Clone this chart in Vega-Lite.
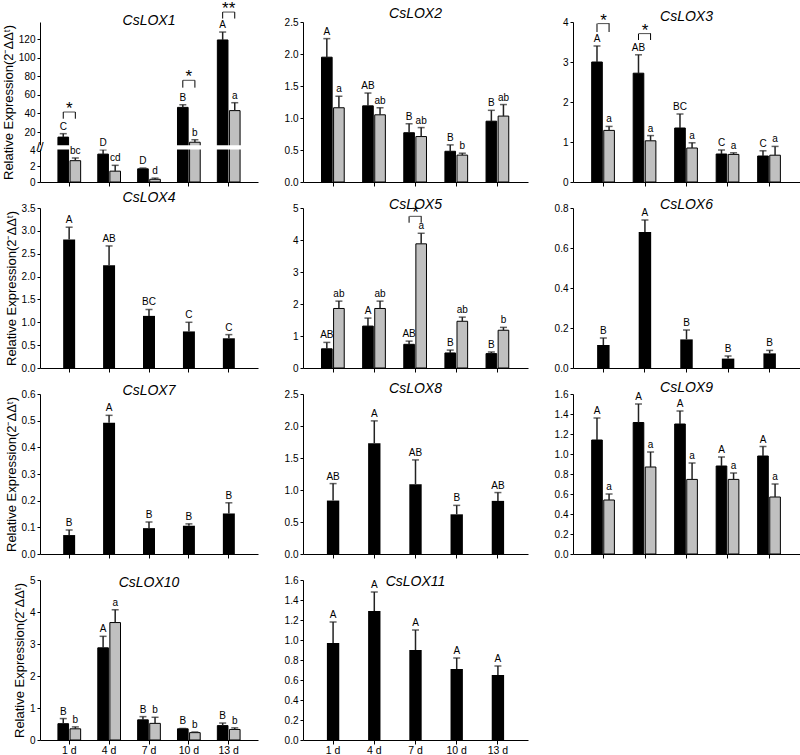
{
"$schema": "https://vega.github.io/schema/vega-lite/v6.json",
"background": "white",
"padding": {"left": 2, "top": 0, "right": 0, "bottom": 0},
"config": {
  "font": "Liberation Sans",
  "view": {"stroke": null},
  "axis": {"labelFontSize": 10, "labelColor": "#000", "tickColor": "#000", "domainColor": "#000", "tickSize": 3, "labelPadding": 2, "labelOverlap": false, "titleFontSize": 13, "titleFontWeight": "normal", "titleColor": "#000", "titlePadding": 3, "grid": false},
  "title": {"fontSize": 14, "fontStyle": "italic", "fontWeight": "normal", "offset": 1, "frame": "group", "anchor": "middle", "color": "#000"}
},
"datasets": {
  "bars": [
    {"gene":"CsLOX1","day":"1 d","treat":"T1","mean":14.5,"hi":18.2,"letter":"C"},
    {"gene":"CsLOX1","day":"1 d","treat":"T2","mean":2.75,"hi":3.1,"letter":"bc"},
    {"gene":"CsLOX1","day":"4 d","treat":"T1","mean":3.6,"hi":4.15,"letter":"D"},
    {"gene":"CsLOX1","day":"4 d","treat":"T2","mean":1.4,"hi":2.15,"letter":"cd"},
    {"gene":"CsLOX1","day":"7 d","treat":"T1","mean":1.7,"hi":1.8,"letter":"D"},
    {"gene":"CsLOX1","day":"7 d","treat":"T2","mean":0.35,"hi":0.5,"letter":"d"},
    {"gene":"CsLOX1","day":"10 d","treat":"T1","mean":46.5,"hi":49.3,"letter":"B"},
    {"gene":"CsLOX1","day":"10 d","treat":"T2","mean":9,"hi":11.7,"letter":"b"},
    {"gene":"CsLOX1","day":"13 d","treat":"T1","mean":119,"hi":127.5,"letter":"A"},
    {"gene":"CsLOX1","day":"13 d","treat":"T2","mean":43,"hi":51.5,"letter":"a"},
    {"gene":"CsLOX2","day":"1 d","treat":"T1","mean":1.95,"hi":2.24,"letter":"A"},
    {"gene":"CsLOX2","day":"1 d","treat":"T2","mean":1.16,"hi":1.34,"letter":"a"},
    {"gene":"CsLOX2","day":"4 d","treat":"T1","mean":1.19,"hi":1.39,"letter":"AB"},
    {"gene":"CsLOX2","day":"4 d","treat":"T2","mean":1.05,"hi":1.16,"letter":"ab"},
    {"gene":"CsLOX2","day":"7 d","treat":"T1","mean":0.77,"hi":0.91,"letter":"B"},
    {"gene":"CsLOX2","day":"7 d","treat":"T2","mean":0.71,"hi":0.85,"letter":"ab"},
    {"gene":"CsLOX2","day":"10 d","treat":"T1","mean":0.48,"hi":0.58,"letter":"B"},
    {"gene":"CsLOX2","day":"10 d","treat":"T2","mean":0.42,"hi":0.45,"letter":"b"},
    {"gene":"CsLOX2","day":"13 d","treat":"T1","mean":0.95,"hi":1.12,"letter":"B"},
    {"gene":"CsLOX2","day":"13 d","treat":"T2","mean":1.03,"hi":1.21,"letter":"ab"},
    {"gene":"CsLOX3","day":"1 d","treat":"T1","mean":3.0,"hi":3.4,"letter":"A"},
    {"gene":"CsLOX3","day":"1 d","treat":"T2","mean":1.29,"hi":1.39,"letter":"a"},
    {"gene":"CsLOX3","day":"4 d","treat":"T1","mean":2.72,"hi":3.18,"letter":"AB"},
    {"gene":"CsLOX3","day":"4 d","treat":"T2","mean":1.03,"hi":1.16,"letter":"a"},
    {"gene":"CsLOX3","day":"7 d","treat":"T1","mean":1.35,"hi":1.7,"letter":"BC"},
    {"gene":"CsLOX3","day":"7 d","treat":"T2","mean":0.85,"hi":0.98,"letter":"a"},
    {"gene":"CsLOX3","day":"10 d","treat":"T1","mean":0.7,"hi":0.8,"letter":"C"},
    {"gene":"CsLOX3","day":"10 d","treat":"T2","mean":0.69,"hi":0.73,"letter":"a"},
    {"gene":"CsLOX3","day":"13 d","treat":"T1","mean":0.65,"hi":0.78,"letter":"C"},
    {"gene":"CsLOX3","day":"13 d","treat":"T2","mean":0.67,"hi":0.89,"letter":"a"},
    {"gene":"CsLOX4","day":"1 d","treat":"T1","mean":2.81,"hi":3.08,"letter":"A"},
    {"gene":"CsLOX4","day":"4 d","treat":"T1","mean":2.25,"hi":2.67,"letter":"AB"},
    {"gene":"CsLOX4","day":"7 d","treat":"T1","mean":1.14,"hi":1.28,"letter":"BC"},
    {"gene":"CsLOX4","day":"10 d","treat":"T1","mean":0.8,"hi":1.0,"letter":"C"},
    {"gene":"CsLOX4","day":"13 d","treat":"T1","mean":0.65,"hi":0.73,"letter":"C"},
    {"gene":"CsLOX5","day":"1 d","treat":"T1","mean":0.6,"hi":0.8,"letter":"AB"},
    {"gene":"CsLOX5","day":"1 d","treat":"T2","mean":1.86,"hi":2.09,"letter":"ab"},
    {"gene":"CsLOX5","day":"4 d","treat":"T1","mean":1.31,"hi":1.56,"letter":"A"},
    {"gene":"CsLOX5","day":"4 d","treat":"T2","mean":1.86,"hi":2.09,"letter":"ab"},
    {"gene":"CsLOX5","day":"7 d","treat":"T1","mean":0.74,"hi":0.84,"letter":"AB"},
    {"gene":"CsLOX5","day":"7 d","treat":"T2","mean":3.88,"hi":4.21,"letter":"a"},
    {"gene":"CsLOX5","day":"10 d","treat":"T1","mean":0.47,"hi":0.56,"letter":"B"},
    {"gene":"CsLOX5","day":"10 d","treat":"T2","mean":1.46,"hi":1.59,"letter":"ab"},
    {"gene":"CsLOX5","day":"13 d","treat":"T1","mean":0.45,"hi":0.5,"letter":"B"},
    {"gene":"CsLOX5","day":"13 d","treat":"T2","mean":1.18,"hi":1.27,"letter":"b"},
    {"gene":"CsLOX6","day":"1 d","treat":"T1","mean":0.115,"hi":0.15,"letter":"B"},
    {"gene":"CsLOX6","day":"4 d","treat":"T1","mean":0.68,"hi":0.74,"letter":"A"},
    {"gene":"CsLOX6","day":"7 d","treat":"T1","mean":0.143,"hi":0.19,"letter":"B"},
    {"gene":"CsLOX6","day":"10 d","treat":"T1","mean":0.047,"hi":0.06,"letter":"B"},
    {"gene":"CsLOX6","day":"13 d","treat":"T1","mean":0.073,"hi":0.088,"letter":"B"},
    {"gene":"CsLOX7","day":"1 d","treat":"T1","mean":0.071,"hi":0.09,"letter":"B"},
    {"gene":"CsLOX7","day":"4 d","treat":"T1","mean":0.492,"hi":0.52,"letter":"A"},
    {"gene":"CsLOX7","day":"7 d","treat":"T1","mean":0.097,"hi":0.12,"letter":"B"},
    {"gene":"CsLOX7","day":"10 d","treat":"T1","mean":0.106,"hi":0.113,"letter":"B"},
    {"gene":"CsLOX7","day":"13 d","treat":"T1","mean":0.152,"hi":0.192,"letter":"B"},
    {"gene":"CsLOX8","day":"1 d","treat":"T1","mean":0.835,"hi":1.1,"letter":"AB"},
    {"gene":"CsLOX8","day":"4 d","treat":"T1","mean":1.73,"hi":2.08,"letter":"A"},
    {"gene":"CsLOX8","day":"7 d","treat":"T1","mean":1.09,"hi":1.47,"letter":"AB"},
    {"gene":"CsLOX8","day":"10 d","treat":"T1","mean":0.62,"hi":0.76,"letter":"B"},
    {"gene":"CsLOX8","day":"13 d","treat":"T1","mean":0.83,"hi":0.96,"letter":"AB"},
    {"gene":"CsLOX9","day":"1 d","treat":"T1","mean":1.14,"hi":1.36,"letter":"A"},
    {"gene":"CsLOX9","day":"1 d","treat":"T2","mean":0.54,"hi":0.6,"letter":"a"},
    {"gene":"CsLOX9","day":"4 d","treat":"T1","mean":1.315,"hi":1.5,"letter":"A"},
    {"gene":"CsLOX9","day":"4 d","treat":"T2","mean":0.87,"hi":1.02,"letter":"a"},
    {"gene":"CsLOX9","day":"7 d","treat":"T1","mean":1.3,"hi":1.43,"letter":"A"},
    {"gene":"CsLOX9","day":"7 d","treat":"T2","mean":0.746,"hi":0.91,"letter":"a"},
    {"gene":"CsLOX9","day":"10 d","treat":"T1","mean":0.88,"hi":0.97,"letter":"A"},
    {"gene":"CsLOX9","day":"10 d","treat":"T2","mean":0.746,"hi":0.81,"letter":"a"},
    {"gene":"CsLOX9","day":"13 d","treat":"T1","mean":0.98,"hi":1.075,"letter":"A"},
    {"gene":"CsLOX9","day":"13 d","treat":"T2","mean":0.57,"hi":0.7,"letter":"a"},
    {"gene":"CsLOX10","day":"1 d","treat":"T1","mean":0.51,"hi":0.67,"letter":"B"},
    {"gene":"CsLOX10","day":"1 d","treat":"T2","mean":0.35,"hi":0.41,"letter":"b"},
    {"gene":"CsLOX10","day":"4 d","treat":"T1","mean":2.88,"hi":3.24,"letter":"A"},
    {"gene":"CsLOX10","day":"4 d","treat":"T2","mean":3.67,"hi":4.07,"letter":"a"},
    {"gene":"CsLOX10","day":"7 d","treat":"T1","mean":0.63,"hi":0.73,"letter":"B"},
    {"gene":"CsLOX10","day":"7 d","treat":"T2","mean":0.52,"hi":0.71,"letter":"b"},
    {"gene":"CsLOX10","day":"10 d","treat":"T1","mean":0.35,"hi":0.36,"letter":"B"},
    {"gene":"CsLOX10","day":"10 d","treat":"T2","mean":0.23,"hi":0.25,"letter":"b"},
    {"gene":"CsLOX10","day":"13 d","treat":"T1","mean":0.45,"hi":0.53,"letter":"B"},
    {"gene":"CsLOX10","day":"13 d","treat":"T2","mean":0.33,"hi":0.38,"letter":"b"},
    {"gene":"CsLOX11","day":"1 d","treat":"T1","mean":0.97,"hi":1.18,"letter":"A"},
    {"gene":"CsLOX11","day":"4 d","treat":"T1","mean":1.29,"hi":1.48,"letter":"A"},
    {"gene":"CsLOX11","day":"7 d","treat":"T1","mean":0.9,"hi":1.1,"letter":"A"},
    {"gene":"CsLOX11","day":"10 d","treat":"T1","mean":0.71,"hi":0.82,"letter":"A"},
    {"gene":"CsLOX11","day":"13 d","treat":"T1","mean":0.65,"hi":0.74,"letter":"A"}
  ],
  "sig": [
    {"gene":"CsLOX1","day":"1 d","treat":"T1","top":41.5,"bot":34.3},
    {"gene":"CsLOX1","day":"1 d","treat":"T2","top":41.5,"bot":34.3},
    {"gene":"CsLOX1","day":"10 d","treat":"T1","top":75.6,"bot":67.7},
    {"gene":"CsLOX1","day":"10 d","treat":"T2","top":75.6,"bot":67.7},
    {"gene":"CsLOX1","day":"13 d","treat":"T1","top":149,"bot":142},
    {"gene":"CsLOX1","day":"13 d","treat":"T2","top":149,"bot":142},
    {"gene":"CsLOX3","day":"1 d","treat":"T1","top":3.96,"bot":3.75},
    {"gene":"CsLOX3","day":"1 d","treat":"T2","top":3.96,"bot":3.75},
    {"gene":"CsLOX3","day":"4 d","treat":"T1","top":3.71,"bot":3.55},
    {"gene":"CsLOX3","day":"4 d","treat":"T2","top":3.71,"bot":3.55},
    {"gene":"CsLOX5","day":"7 d","treat":"T1","top":4.74,"bot":4.54},
    {"gene":"CsLOX5","day":"7 d","treat":"T2","top":4.74,"bot":4.54}
  ],
  "stars": [
    {"gene":"CsLOX1","day":"1 d","top":41.5,"label":"*"},
    {"gene":"CsLOX1","day":"10 d","top":75.6,"label":"*"},
    {"gene":"CsLOX1","day":"13 d","top":149,"label":"**"},
    {"gene":"CsLOX3","day":"1 d","top":3.96,"label":"*"},
    {"gene":"CsLOX3","day":"4 d","top":3.71,"label":"*"},
    {"gene":"CsLOX5","day":"7 d","top":4.74,"label":"*"}
  ],
  "breaks": [
    {"gene":"CsLOX1","lo":4.18,"hi":5.7,"mid":4.94}
  ]
},
"bounds": "flush",
"columns": 3,
"spacing": {"row": 26, "column": 45},
"concat": [
 {"title":{"text":"CsLOX1","offset":-28},"width":218,"height":160,"data":{"name":"bars"},"transform":[{"filter":"datum.gene == 'CsLOX1'"}],
  "layer":[
   {"mark":{"type":"bar","stroke":"#000","strokeWidth":1},"encoding":{
     "x":{"field":"day","type":"ordinal","sort":["1 d","4 d","7 d","10 d","13 d"],"scale":{"paddingInner":0.43,"paddingOuter":0.45},"axis":{"title":null,"labels":false,"tickSize":4}},
     "xOffset":{"field":"treat","type":"nominal","sort":["T1","T2"],"scale":{"paddingInner":0.12}},
     "y":{"field":"mean","type":"quantitative","scale":{"domain":[0,4.18,5.7,138.3],"range":[160,127.6,123.3,0],"nice":false,"zero":false},"axis":{"title":"Relative Expression(2⁻ΔΔᵗ)","values":[0,2,4,20,40,60,80,100,120],"tickCount":50}},
     "fill":{"field":"treat","type":"nominal","scale":{"domain":["T1","T2"],"range":["#000000","#c0c0c0"]},"legend":null}}},
   {"mark":{"type":"rule","color":"#222","strokeWidth":1.5},"encoding":{"x":{"field":"day","type":"ordinal","sort":["1 d","4 d","7 d","10 d","13 d"]},"xOffset":{"field":"treat","type":"nominal","sort":["T1","T2"]},"y":{"field":"mean","type":"quantitative"},"y2":{"field":"hi"}}},
   {"mark":{"type":"tick","color":"#222","size":7,"thickness":1.5},"encoding":{"x":{"field":"day","type":"ordinal","sort":["1 d","4 d","7 d","10 d","13 d"]},"xOffset":{"field":"treat","type":"nominal","sort":["T1","T2"]},"y":{"field":"hi","type":"quantitative"}}},
   {"data":{"name":"breaks"},"mark":{"type":"rect","color":"white"},"encoding":{"y":{"field":"lo","type":"quantitative"},"y2":{"field":"hi"}}},
   {"data":{"name":"breaks"},"mark":{"type":"text","text":"//","fontSize":13,"color":"#000"},"encoding":{"x":{"value":0},"y":{"field":"mid","type":"quantitative"}}},
   {"mark":{"type":"text","fontSize":10,"dy":-4,"baseline":"alphabetic","color":"#000"},"encoding":{"x":{"field":"day","type":"ordinal","sort":["1 d","4 d","7 d","10 d","13 d"]},"xOffset":{"field":"treat","type":"nominal","sort":["T1","T2"]},"y":{"field":"hi","type":"quantitative"},"text":{"field":"letter"}}},
   {"data":{"name":"sig"},"transform":[{"filter":"datum.gene == 'CsLOX1'"}],"mark":{"type":"rule","color":"#000","strokeWidth":1},"encoding":{"x":{"field":"day","type":"ordinal","sort":["1 d","4 d","7 d","10 d","13 d"]},"xOffset":{"field":"treat","type":"nominal","sort":["T1","T2"]},"y":{"field":"top","type":"quantitative"},"y2":{"field":"bot"}}},
   {"data":{"name":"stars"},"transform":[{"filter":"datum.gene == 'CsLOX1'"}],"mark":{"type":"tick","color":"#000","size":12,"thickness":1},"encoding":{"x":{"field":"day","type":"ordinal","sort":["1 d","4 d","7 d","10 d","13 d"]},"y":{"field":"top","type":"quantitative"}}},
   {"data":{"name":"stars"},"transform":[{"filter":"datum.gene == 'CsLOX1'"}],"mark":{"type":"text","fontSize":17,"dy":2,"baseline":"alphabetic","color":"#000"},"encoding":{"x":{"field":"day","type":"ordinal","sort":["1 d","4 d","7 d","10 d","13 d"]},"y":{"field":"top","type":"quantitative"},"text":{"field":"label"}}}
  ]},
 {"title":{"text":"CsLOX2","offset":-4},"width":225,"height":160,"data":{"name":"bars"},"transform":[{"filter":"datum.gene == 'CsLOX2'"}],
  "layer":[
   {"mark":{"type":"bar","stroke":"#000","strokeWidth":1},"encoding":{
     "x":{"field":"day","type":"ordinal","sort":["1 d","4 d","7 d","10 d","13 d"],"scale":{"paddingInner":0.43,"paddingOuter":0.45},"axis":{"title":null,"labels":false,"tickSize":4}},
     "xOffset":{"field":"treat","type":"nominal","sort":["T1","T2"],"scale":{"paddingInner":0.12}},
     "y":{"field":"mean","type":"quantitative","scale":{"domain":[0,2.5],"nice":false},"axis":{"title":null,"values":[0,0.5,1,1.5,2,2.5],"format":".1f","tickCount":50}},
     "fill":{"field":"treat","type":"nominal","scale":{"domain":["T1","T2"],"range":["#000000","#c0c0c0"]},"legend":null}}},
   {"mark":{"type":"rule","color":"#222","strokeWidth":1.5},"encoding":{"x":{"field":"day","type":"ordinal","sort":["1 d","4 d","7 d","10 d","13 d"]},"xOffset":{"field":"treat","type":"nominal","sort":["T1","T2"]},"y":{"field":"mean","type":"quantitative"},"y2":{"field":"hi"}}},
   {"mark":{"type":"tick","color":"#222","size":7,"thickness":1.5},"encoding":{"x":{"field":"day","type":"ordinal","sort":["1 d","4 d","7 d","10 d","13 d"]},"xOffset":{"field":"treat","type":"nominal","sort":["T1","T2"]},"y":{"field":"hi","type":"quantitative"}}},
   {"mark":{"type":"text","fontSize":10,"dy":-4,"baseline":"alphabetic","color":"#000"},"encoding":{"x":{"field":"day","type":"ordinal","sort":["1 d","4 d","7 d","10 d","13 d"]},"xOffset":{"field":"treat","type":"nominal","sort":["T1","T2"]},"y":{"field":"hi","type":"quantitative"},"text":{"field":"letter"}}}
  ]},
 {"title":{"text":"CsLOX3","offset":-12},"width":227,"height":160,"data":{"name":"bars"},"transform":[{"filter":"datum.gene == 'CsLOX3'"}],
  "layer":[
   {"mark":{"type":"bar","stroke":"#000","strokeWidth":1},"encoding":{
     "x":{"field":"day","type":"ordinal","sort":["1 d","4 d","7 d","10 d","13 d"],"scale":{"paddingInner":0.43,"paddingOuter":0.45},"axis":{"title":null,"labels":false,"tickSize":4}},
     "xOffset":{"field":"treat","type":"nominal","sort":["T1","T2"],"scale":{"paddingInner":0.12}},
     "y":{"field":"mean","type":"quantitative","scale":{"domain":[0,4],"nice":false},"axis":{"title":null,"values":[0,1,2,3,4],"format":"d","tickCount":50}},
     "fill":{"field":"treat","type":"nominal","scale":{"domain":["T1","T2"],"range":["#000000","#c0c0c0"]},"legend":null}}},
   {"mark":{"type":"rule","color":"#222","strokeWidth":1.5},"encoding":{"x":{"field":"day","type":"ordinal","sort":["1 d","4 d","7 d","10 d","13 d"]},"xOffset":{"field":"treat","type":"nominal","sort":["T1","T2"]},"y":{"field":"mean","type":"quantitative"},"y2":{"field":"hi"}}},
   {"mark":{"type":"tick","color":"#222","size":7,"thickness":1.5},"encoding":{"x":{"field":"day","type":"ordinal","sort":["1 d","4 d","7 d","10 d","13 d"]},"xOffset":{"field":"treat","type":"nominal","sort":["T1","T2"]},"y":{"field":"hi","type":"quantitative"}}},
   {"mark":{"type":"text","fontSize":10,"dy":-4,"baseline":"alphabetic","color":"#000"},"encoding":{"x":{"field":"day","type":"ordinal","sort":["1 d","4 d","7 d","10 d","13 d"]},"xOffset":{"field":"treat","type":"nominal","sort":["T1","T2"]},"y":{"field":"hi","type":"quantitative"},"text":{"field":"letter"}}},
   {"data":{"name":"sig"},"transform":[{"filter":"datum.gene == 'CsLOX3'"}],"mark":{"type":"rule","color":"#000","strokeWidth":1},"encoding":{"x":{"field":"day","type":"ordinal","sort":["1 d","4 d","7 d","10 d","13 d"]},"xOffset":{"field":"treat","type":"nominal","sort":["T1","T2"]},"y":{"field":"top","type":"quantitative"},"y2":{"field":"bot"}}},
   {"data":{"name":"stars"},"transform":[{"filter":"datum.gene == 'CsLOX3'"}],"mark":{"type":"tick","color":"#000","size":12,"thickness":1},"encoding":{"x":{"field":"day","type":"ordinal","sort":["1 d","4 d","7 d","10 d","13 d"]},"y":{"field":"top","type":"quantitative"}}},
   {"data":{"name":"stars"},"transform":[{"filter":"datum.gene == 'CsLOX3'"}],"mark":{"type":"text","fontSize":17,"dy":2,"baseline":"alphabetic","color":"#000"},"encoding":{"x":{"field":"day","type":"ordinal","sort":["1 d","4 d","7 d","10 d","13 d"]},"y":{"field":"top","type":"quantitative"},"text":{"field":"label"}}}
  ]},
 {"title":{"text":"CsLOX4","offset":-2},"width":218,"height":160,"data":{"name":"bars"},"transform":[{"filter":"datum.gene == 'CsLOX4'"}],
  "layer":[
   {"mark":{"type":"bar","color":"#000"},"encoding":{
     "x":{"field":"day","type":"ordinal","sort":["1 d","4 d","7 d","10 d","13 d"],"scale":{"paddingInner":0.7,"paddingOuter":0.58},"axis":{"title":null,"labels":false,"tickSize":4}},
     "y":{"field":"mean","type":"quantitative","scale":{"domain":[0,3.5],"nice":false},"axis":{"title":"Relative Expression(2⁻ΔΔᵗ)","values":[0,0.5,1,1.5,2,2.5,3,3.5],"format":".1f","tickCount":50}}}},
   {"mark":{"type":"rule","color":"#222","strokeWidth":1.5},"encoding":{"x":{"field":"day","type":"ordinal","sort":["1 d","4 d","7 d","10 d","13 d"]},"y":{"field":"mean","type":"quantitative"},"y2":{"field":"hi"}}},
   {"mark":{"type":"tick","color":"#222","size":7,"thickness":1.5},"encoding":{"x":{"field":"day","type":"ordinal","sort":["1 d","4 d","7 d","10 d","13 d"]},"y":{"field":"hi","type":"quantitative"}}},
   {"mark":{"type":"text","fontSize":10,"dy":-4,"baseline":"alphabetic","color":"#000"},"encoding":{"x":{"field":"day","type":"ordinal","sort":["1 d","4 d","7 d","10 d","13 d"]},"y":{"field":"hi","type":"quantitative"},"text":{"field":"letter"}}}
  ]},
 {"title":{"text":"CsLOX5","offset":-9},"width":225,"height":160,"data":{"name":"bars"},"transform":[{"filter":"datum.gene == 'CsLOX5'"}],
  "layer":[
   {"mark":{"type":"bar","stroke":"#000","strokeWidth":1},"encoding":{
     "x":{"field":"day","type":"ordinal","sort":["1 d","4 d","7 d","10 d","13 d"],"scale":{"paddingInner":0.43,"paddingOuter":0.45},"axis":{"title":null,"labels":false,"tickSize":4}},
     "xOffset":{"field":"treat","type":"nominal","sort":["T1","T2"],"scale":{"paddingInner":0.12}},
     "y":{"field":"mean","type":"quantitative","scale":{"domain":[0,5],"nice":false},"axis":{"title":null,"values":[0,1,2,3,4,5],"format":"d","tickCount":50}},
     "fill":{"field":"treat","type":"nominal","scale":{"domain":["T1","T2"],"range":["#000000","#c0c0c0"]},"legend":null}}},
   {"mark":{"type":"rule","color":"#222","strokeWidth":1.5},"encoding":{"x":{"field":"day","type":"ordinal","sort":["1 d","4 d","7 d","10 d","13 d"]},"xOffset":{"field":"treat","type":"nominal","sort":["T1","T2"]},"y":{"field":"mean","type":"quantitative"},"y2":{"field":"hi"}}},
   {"mark":{"type":"tick","color":"#222","size":7,"thickness":1.5},"encoding":{"x":{"field":"day","type":"ordinal","sort":["1 d","4 d","7 d","10 d","13 d"]},"xOffset":{"field":"treat","type":"nominal","sort":["T1","T2"]},"y":{"field":"hi","type":"quantitative"}}},
   {"mark":{"type":"text","fontSize":10,"dy":-4,"baseline":"alphabetic","color":"#000"},"encoding":{"x":{"field":"day","type":"ordinal","sort":["1 d","4 d","7 d","10 d","13 d"]},"xOffset":{"field":"treat","type":"nominal","sort":["T1","T2"]},"y":{"field":"hi","type":"quantitative"},"text":{"field":"letter"}}},
   {"data":{"name":"sig"},"transform":[{"filter":"datum.gene == 'CsLOX5'"}],"mark":{"type":"rule","color":"#000","strokeWidth":1},"encoding":{"x":{"field":"day","type":"ordinal","sort":["1 d","4 d","7 d","10 d","13 d"]},"xOffset":{"field":"treat","type":"nominal","sort":["T1","T2"]},"y":{"field":"top","type":"quantitative"},"y2":{"field":"bot"}}},
   {"data":{"name":"stars"},"transform":[{"filter":"datum.gene == 'CsLOX5'"}],"mark":{"type":"tick","color":"#000","size":12,"thickness":1},"encoding":{"x":{"field":"day","type":"ordinal","sort":["1 d","4 d","7 d","10 d","13 d"]},"y":{"field":"top","type":"quantitative"}}},
   {"data":{"name":"stars"},"transform":[{"filter":"datum.gene == 'CsLOX5'"}],"mark":{"type":"text","fontSize":17,"dy":2,"baseline":"alphabetic","color":"#000"},"encoding":{"x":{"field":"day","type":"ordinal","sort":["1 d","4 d","7 d","10 d","13 d"]},"y":{"field":"top","type":"quantitative"},"text":{"field":"label"}}}
  ]},
 {"title":{"text":"CsLOX6","offset":-9},"width":227,"height":160,"data":{"name":"bars"},"transform":[{"filter":"datum.gene == 'CsLOX6'"}],
  "layer":[
   {"mark":{"type":"bar","color":"#000"},"encoding":{
     "x":{"field":"day","type":"ordinal","sort":["1 d","4 d","7 d","10 d","13 d"],"scale":{"paddingInner":0.7,"paddingOuter":0.58},"axis":{"title":null,"labels":false,"tickSize":4}},
     "y":{"field":"mean","type":"quantitative","scale":{"domain":[0,0.8],"nice":false},"axis":{"title":null,"values":[0,0.2,0.4,0.6,0.8],"format":".1f","tickCount":50}}}},
   {"mark":{"type":"rule","color":"#222","strokeWidth":1.5},"encoding":{"x":{"field":"day","type":"ordinal","sort":["1 d","4 d","7 d","10 d","13 d"]},"y":{"field":"mean","type":"quantitative"},"y2":{"field":"hi"}}},
   {"mark":{"type":"tick","color":"#222","size":7,"thickness":1.5},"encoding":{"x":{"field":"day","type":"ordinal","sort":["1 d","4 d","7 d","10 d","13 d"]},"y":{"field":"hi","type":"quantitative"}}},
   {"mark":{"type":"text","fontSize":10,"dy":-4,"baseline":"alphabetic","color":"#000"},"encoding":{"x":{"field":"day","type":"ordinal","sort":["1 d","4 d","7 d","10 d","13 d"]},"y":{"field":"hi","type":"quantitative"},"text":{"field":"letter"}}}
  ]},
 {"title":{"text":"CsLOX7","offset":-9},"width":218,"height":160,"data":{"name":"bars"},"transform":[{"filter":"datum.gene == 'CsLOX7'"}],
  "layer":[
   {"mark":{"type":"bar","color":"#000"},"encoding":{
     "x":{"field":"day","type":"ordinal","sort":["1 d","4 d","7 d","10 d","13 d"],"scale":{"paddingInner":0.7,"paddingOuter":0.58},"axis":{"title":null,"labels":false,"tickSize":4}},
     "y":{"field":"mean","type":"quantitative","scale":{"domain":[0,0.6],"nice":false},"axis":{"title":"Relative Expression(2⁻ΔΔᵗ)","values":[0,0.1,0.2,0.3,0.4,0.5,0.6],"format":".1f","tickCount":50}}}},
   {"mark":{"type":"rule","color":"#222","strokeWidth":1.5},"encoding":{"x":{"field":"day","type":"ordinal","sort":["1 d","4 d","7 d","10 d","13 d"]},"y":{"field":"mean","type":"quantitative"},"y2":{"field":"hi"}}},
   {"mark":{"type":"tick","color":"#222","size":7,"thickness":1.5},"encoding":{"x":{"field":"day","type":"ordinal","sort":["1 d","4 d","7 d","10 d","13 d"]},"y":{"field":"hi","type":"quantitative"}}},
   {"mark":{"type":"text","fontSize":10,"dy":-4,"baseline":"alphabetic","color":"#000"},"encoding":{"x":{"field":"day","type":"ordinal","sort":["1 d","4 d","7 d","10 d","13 d"]},"y":{"field":"hi","type":"quantitative"},"text":{"field":"letter"}}}
  ]},
 {"title":{"text":"CsLOX8","offset":-7},"width":225,"height":160,"data":{"name":"bars"},"transform":[{"filter":"datum.gene == 'CsLOX8'"}],
  "layer":[
   {"mark":{"type":"bar","color":"#000"},"encoding":{
     "x":{"field":"day","type":"ordinal","sort":["1 d","4 d","7 d","10 d","13 d"],"scale":{"paddingInner":0.7,"paddingOuter":0.58},"axis":{"title":null,"labels":false,"tickSize":4}},
     "y":{"field":"mean","type":"quantitative","scale":{"domain":[0,2.5],"nice":false},"axis":{"title":null,"values":[0,0.5,1,1.5,2,2.5],"format":".1f","tickCount":50}}}},
   {"mark":{"type":"rule","color":"#222","strokeWidth":1.5},"encoding":{"x":{"field":"day","type":"ordinal","sort":["1 d","4 d","7 d","10 d","13 d"]},"y":{"field":"mean","type":"quantitative"},"y2":{"field":"hi"}}},
   {"mark":{"type":"tick","color":"#222","size":7,"thickness":1.5},"encoding":{"x":{"field":"day","type":"ordinal","sort":["1 d","4 d","7 d","10 d","13 d"]},"y":{"field":"hi","type":"quantitative"}}},
   {"mark":{"type":"text","fontSize":10,"dy":-4,"baseline":"alphabetic","color":"#000"},"encoding":{"x":{"field":"day","type":"ordinal","sort":["1 d","4 d","7 d","10 d","13 d"]},"y":{"field":"hi","type":"quantitative"},"text":{"field":"letter"}}}
  ]},
 {"title":{"text":"CsLOX9","offset":-6},"width":227,"height":160,"data":{"name":"bars"},"transform":[{"filter":"datum.gene == 'CsLOX9'"}],
  "layer":[
   {"mark":{"type":"bar","stroke":"#000","strokeWidth":1},"encoding":{
     "x":{"field":"day","type":"ordinal","sort":["1 d","4 d","7 d","10 d","13 d"],"scale":{"paddingInner":0.43,"paddingOuter":0.45},"axis":{"title":null,"labels":false,"tickSize":4}},
     "xOffset":{"field":"treat","type":"nominal","sort":["T1","T2"],"scale":{"paddingInner":0.12}},
     "y":{"field":"mean","type":"quantitative","scale":{"domain":[0,1.6],"nice":false},"axis":{"title":null,"values":[0,0.2,0.4,0.6,0.8,1,1.2,1.4,1.6],"format":".1f","tickCount":50}},
     "fill":{"field":"treat","type":"nominal","scale":{"domain":["T1","T2"],"range":["#000000","#c0c0c0"]},"legend":null}}},
   {"mark":{"type":"rule","color":"#222","strokeWidth":1.5},"encoding":{"x":{"field":"day","type":"ordinal","sort":["1 d","4 d","7 d","10 d","13 d"]},"xOffset":{"field":"treat","type":"nominal","sort":["T1","T2"]},"y":{"field":"mean","type":"quantitative"},"y2":{"field":"hi"}}},
   {"mark":{"type":"tick","color":"#222","size":7,"thickness":1.5},"encoding":{"x":{"field":"day","type":"ordinal","sort":["1 d","4 d","7 d","10 d","13 d"]},"xOffset":{"field":"treat","type":"nominal","sort":["T1","T2"]},"y":{"field":"hi","type":"quantitative"}}},
   {"mark":{"type":"text","fontSize":10,"dy":-4,"baseline":"alphabetic","color":"#000"},"encoding":{"x":{"field":"day","type":"ordinal","sort":["1 d","4 d","7 d","10 d","13 d"]},"xOffset":{"field":"treat","type":"nominal","sort":["T1","T2"]},"y":{"field":"hi","type":"quantitative"},"text":{"field":"letter"}}}
  ]},
 {"title":{"text":"CsLOX10","offset":-15},"width":218,"height":160,"data":{"name":"bars"},"transform":[{"filter":"datum.gene == 'CsLOX10'"}],
  "layer":[
   {"mark":{"type":"bar","stroke":"#000","strokeWidth":1},"encoding":{
     "x":{"field":"day","type":"ordinal","sort":["1 d","4 d","7 d","10 d","13 d"],"scale":{"paddingInner":0.43,"paddingOuter":0.45},"axis":{"title":null,"labelAngle":0,"labelFontSize":10.5,"tickSize":4,"labelPadding":1}},
     "xOffset":{"field":"treat","type":"nominal","sort":["T1","T2"],"scale":{"paddingInner":0.12}},
     "y":{"field":"mean","type":"quantitative","scale":{"domain":[0,5],"nice":false},"axis":{"title":"Relative Expression(2⁻ΔΔᵗ)","values":[0,1,2,3,4,5],"format":"d","tickCount":50}},
     "fill":{"field":"treat","type":"nominal","scale":{"domain":["T1","T2"],"range":["#000000","#c0c0c0"]},"legend":null}}},
   {"mark":{"type":"rule","color":"#222","strokeWidth":1.5},"encoding":{"x":{"field":"day","type":"ordinal","sort":["1 d","4 d","7 d","10 d","13 d"]},"xOffset":{"field":"treat","type":"nominal","sort":["T1","T2"]},"y":{"field":"mean","type":"quantitative"},"y2":{"field":"hi"}}},
   {"mark":{"type":"tick","color":"#222","size":7,"thickness":1.5},"encoding":{"x":{"field":"day","type":"ordinal","sort":["1 d","4 d","7 d","10 d","13 d"]},"xOffset":{"field":"treat","type":"nominal","sort":["T1","T2"]},"y":{"field":"hi","type":"quantitative"}}},
   {"mark":{"type":"text","fontSize":10,"dy":-4,"baseline":"alphabetic","color":"#000"},"encoding":{"x":{"field":"day","type":"ordinal","sort":["1 d","4 d","7 d","10 d","13 d"]},"xOffset":{"field":"treat","type":"nominal","sort":["T1","T2"]},"y":{"field":"hi","type":"quantitative"},"text":{"field":"letter"}}}
  ]},
 {"title":{"text":"CsLOX11","offset":-14},"width":225,"height":160,"data":{"name":"bars"},"transform":[{"filter":"datum.gene == 'CsLOX11'"}],
  "layer":[
   {"mark":{"type":"bar","color":"#000"},"encoding":{
     "x":{"field":"day","type":"ordinal","sort":["1 d","4 d","7 d","10 d","13 d"],"scale":{"paddingInner":0.7,"paddingOuter":0.58},"axis":{"title":null,"labelAngle":0,"labelFontSize":10.5,"tickSize":4,"labelPadding":1}},
     "y":{"field":"mean","type":"quantitative","scale":{"domain":[0,1.6],"nice":false},"axis":{"title":null,"values":[0,0.2,0.4,0.6,0.8,1,1.2,1.4,1.6],"format":".1f","tickCount":50}}}},
   {"mark":{"type":"rule","color":"#222","strokeWidth":1.5},"encoding":{"x":{"field":"day","type":"ordinal","sort":["1 d","4 d","7 d","10 d","13 d"]},"y":{"field":"mean","type":"quantitative"},"y2":{"field":"hi"}}},
   {"mark":{"type":"tick","color":"#222","size":7,"thickness":1.5},"encoding":{"x":{"field":"day","type":"ordinal","sort":["1 d","4 d","7 d","10 d","13 d"]},"y":{"field":"hi","type":"quantitative"}}},
   {"mark":{"type":"text","fontSize":10,"dy":-4,"baseline":"alphabetic","color":"#000"},"encoding":{"x":{"field":"day","type":"ordinal","sort":["1 d","4 d","7 d","10 d","13 d"]},"y":{"field":"hi","type":"quantitative"},"text":{"field":"letter"}}}
  ]}
]
}
